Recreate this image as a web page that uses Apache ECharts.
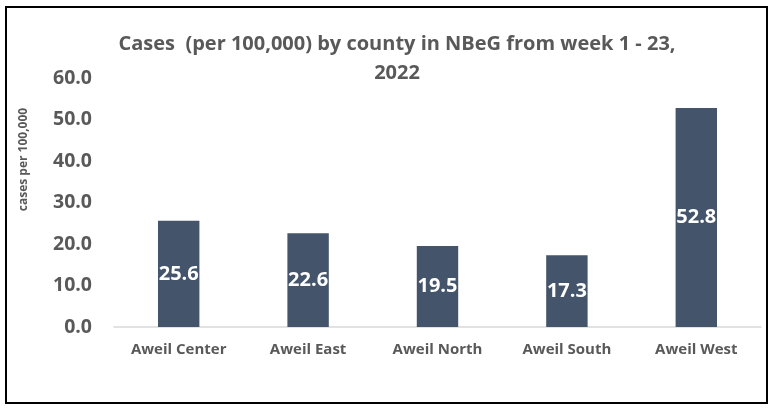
<!DOCTYPE html>
<html>
<head>
<meta charset="utf-8">
<script src="https://cdn.jsdelivr.net/npm/echarts@6/dist/echarts.min.js"></script>
<style>
html,body{margin:0;padding:0;background:#fff;}
#chart{width:773px;height:410px;}
</style>
</head>
<body>
<div id="chart"></div>
<script>
const categories = ['Aweil Center', 'Aweil East', 'Aweil North', 'Aweil South', 'Aweil West'];
const casesPer100k = [25.6, 22.6, 19.5, 17.3, 52.8];
const titleText = 'Cases  (per 100,000) by county in NBeG from week 1 - 23,\n2022';
const yAxisName = 'cases per 100,000';

const chart = echarts.init(document.getElementById('chart'), null, {renderer: 'canvas'});
const FONT = 'Open Sans';
const GREY = '#595959';
chart.setOption({
  animation: false,
  backgroundColor: '#fff',
  title: {
    text: titleText,
    left: 392,
    textAlign: 'center',
    top: 25,
    textStyle: {fontFamily: FONT, fontWeight: 'bold', fontSize: 20, color: GREY, lineHeight: 29}
  },
  grid: {left: 114, right: 12, top: 78, bottom: 83, containLabel: false},
  xAxis: {
    type: 'category',
    data: categories,
    axisLine: {lineStyle: {color: '#D9D9D9', width: 1.5}},
    axisTick: {show: false},
    axisLabel: {interval: 0, hideOverlap: false, fontFamily: FONT, fontWeight: 'bold', fontSize: 15, color: GREY, margin: 15}
  },
  yAxis: {
    type: 'value',
    min: 0, max: 60, interval: 10,
    name: yAxisName,
    nameLocation: 'middle',
    nameRotate: 90,
    nameGap: 84,
    nameTextStyle: {fontFamily: FONT, fontWeight: 'bold', fontSize: 12, color: GREY, padding: [0, 0, 0, 86]},
    axisLine: {show: false},
    axisTick: {show: false},
    splitLine: {show: false},
    axisLabel: {fontFamily: FONT, fontWeight: 'bold', fontSize: 19.5, color: GREY, margin: 22,
      formatter: v => v.toFixed(1)}
  },
  series: [{
    type: 'bar',
    data: casesPer100k,
    barWidth: '32%',
    itemStyle: {color: '#44546A'},
    label: {show: true, position: 'inside', fontFamily: FONT, fontWeight: 'bold', fontSize: 20, color: '#fff',
      formatter: p => p.value.toFixed(1)}
  }],
  graphic: [{
    type: 'rect',
    shape: {x: 6, y: 7, width: 761, height: 396},
    style: {fill: 'none', stroke: '#000', lineWidth: 2},
    silent: true
  }]
});
</script>
</body>
</html>
